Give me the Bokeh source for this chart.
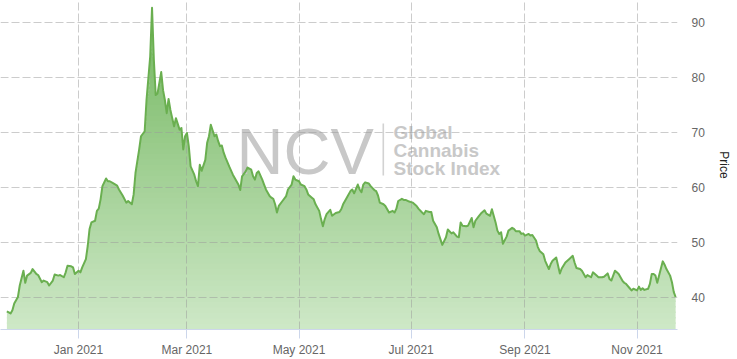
import numpy as np
import pandas as pd
from bokeh.plotting import figure
from bokeh.models import Range1d, FixedTicker, DatetimeTickFormatter, Label, BoxAnnotation
from bokeh.embed import file_html
from bokeh.resources import INLINE

# ---------------- data ----------------
dates = [
    "2020-11-23", "2020-11-25", "2020-11-26", "2020-11-27", "2020-11-29", "2020-11-30",
    "2020-12-02", "2020-12-03", "2020-12-04", "2020-12-06", "2020-12-07", "2020-12-09",
    "2020-12-10", "2020-12-12", "2020-12-13", "2020-12-15", "2020-12-16", "2020-12-18",
    "2020-12-19", "2020-12-21", "2020-12-22", "2020-12-24", "2020-12-25", "2020-12-26",
    "2020-12-28", "2020-12-29", "2020-12-30",
    "2021-01-01", "2021-01-02", "2021-01-03", "2021-01-05", "2021-01-06", "2021-01-07",
    "2021-01-08", "2021-01-10", "2021-01-11", "2021-01-12", "2021-01-13", "2021-01-14",
    "2021-01-16", "2021-01-17", "2021-01-18", "2021-01-20", "2021-01-22", "2021-01-23",
    "2021-01-25", "2021-01-27", "2021-01-28", "2021-01-30", "2021-01-31",
    "2021-02-01", "2021-02-03", "2021-02-04", "2021-02-06", "2021-02-07", "2021-02-09",
    "2021-02-10", "2021-02-11", "2021-02-12", "2021-02-13", "2021-02-15", "2021-02-16",
    "2021-02-17", "2021-02-18", "2021-02-19", "2021-02-20", "2021-02-21", "2021-02-22",
    "2021-02-23", "2021-02-25", "2021-02-26", "2021-02-27", "2021-02-28",
    "2021-03-01", "2021-03-02", "2021-03-03", "2021-03-05", "2021-03-06", "2021-03-07",
    "2021-03-08", "2021-03-09", "2021-03-11", "2021-03-12", "2021-03-13", "2021-03-14",
    "2021-03-16", "2021-03-17", "2021-03-18", "2021-03-19", "2021-03-20", "2021-03-21",
    "2021-03-22", "2021-03-24", "2021-03-26", "2021-03-27", "2021-03-29", "2021-03-30",
    "2021-03-31",
    "2021-04-02", "2021-04-03", "2021-04-05", "2021-04-06", "2021-04-07", "2021-04-08",
    "2021-04-09", "2021-04-11", "2021-04-12", "2021-04-13", "2021-04-15", "2021-04-16",
    "2021-04-17", "2021-04-18", "2021-04-19", "2021-04-20", "2021-04-22", "2021-04-24",
    "2021-04-25", "2021-04-27", "2021-04-28", "2021-04-29",
    "2021-05-01", "2021-05-02", "2021-05-04", "2021-05-05", "2021-05-06", "2021-05-08",
    "2021-05-09", "2021-05-10", "2021-05-12", "2021-05-13", "2021-05-14", "2021-05-15",
    "2021-05-16", "2021-05-18", "2021-05-19", "2021-05-21", "2021-05-23", "2021-05-24",
    "2021-05-25", "2021-05-27", "2021-05-29", "2021-05-30", "2021-05-31",
    "2021-06-02", "2021-06-03", "2021-06-04", "2021-06-05", "2021-06-06", "2021-06-08",
    "2021-06-09", "2021-06-11", "2021-06-12", "2021-06-13", "2021-06-14", "2021-06-16",
    "2021-06-17", "2021-06-18", "2021-06-19", "2021-06-21", "2021-06-22", "2021-06-23",
    "2021-06-24", "2021-06-26", "2021-06-27", "2021-06-28", "2021-06-30",
    "2021-07-01", "2021-07-02", "2021-07-04", "2021-07-05", "2021-07-07", "2021-07-08",
    "2021-07-09", "2021-07-11", "2021-07-12", "2021-07-13", "2021-07-15", "2021-07-16",
    "2021-07-18", "2021-07-20", "2021-07-21", "2021-07-23", "2021-07-24", "2021-07-26",
    "2021-07-27", "2021-07-28", "2021-07-29", "2021-07-31",
    "2021-08-01", "2021-08-03", "2021-08-04", "2021-08-05", "2021-08-07", "2021-08-08",
    "2021-08-10", "2021-08-11", "2021-08-13", "2021-08-14", "2021-08-16", "2021-08-17",
    "2021-08-18", "2021-08-19", "2021-08-20", "2021-08-22", "2021-08-23", "2021-08-25",
    "2021-08-26", "2021-08-27", "2021-08-29", "2021-08-30", "2021-08-31",
    "2021-09-01", "2021-09-03", "2021-09-04", "2021-09-05", "2021-09-07", "2021-09-08",
    "2021-09-09", "2021-09-11", "2021-09-12", "2021-09-14", "2021-09-15", "2021-09-16",
    "2021-09-18", "2021-09-20", "2021-09-21", "2021-09-23", "2021-09-25", "2021-09-27",
    "2021-09-28", "2021-09-29",
    "2021-10-01", "2021-10-02", "2021-10-04", "2021-10-05", "2021-10-07", "2021-10-08",
    "2021-10-10", "2021-10-11", "2021-10-13", "2021-10-14", "2021-10-16", "2021-10-17",
    "2021-10-18", "2021-10-20", "2021-10-21", "2021-10-22", "2021-10-24", "2021-10-25",
    "2021-10-26", "2021-10-28", "2021-10-29", "2021-10-30",
    "2021-11-01", "2021-11-02", "2021-11-03", "2021-11-04", "2021-11-05", "2021-11-07",
    "2021-11-08", "2021-11-09", "2021-11-10", "2021-11-11", "2021-11-12", "2021-11-13",
    "2021-11-15", "2021-11-16", "2021-11-17", "2021-11-19", "2021-11-20", "2021-11-21",
    "2021-11-22",
]

prices = [
    37.4, 37.0, 37.6, 38.8, 40.0, 42.1,
    44.8, 42.6, 43.9, 44.4, 45.1, 44.2,
    44.0, 42.7, 43.0, 42.7, 42.1, 43.0,
    44.1, 43.9, 44.0, 43.6, 44.5, 45.7,
    45.6, 45.4, 44.2,
    44.8, 44.5, 45.4, 46.9, 49.3, 52.4,
    53.6, 53.9, 55.7, 56.1, 57.8, 60.2,
    61.6, 61.1, 61.1, 60.7, 60.3, 59.6,
    58.5, 57.2, 57.5, 56.9, 58.7,
    62.6, 66.9, 69.3, 70.2, 75.9, 83.8,
    92.7, 83.2, 76.8, 77.1, 81.0, 77.7,
    75.9, 73.5, 76.1, 74.1, 72.6, 71.1,
    72.6, 70.5, 70.8, 66.9, 69.3,
    69.9, 67.5, 63.8, 62.3, 61.1, 60.2,
    64.1, 63.0, 65.0, 68.1, 69.3, 71.4,
    69.3, 69.6, 68.4, 67.5, 67.6, 66.3,
    65.4, 63.8, 62.3, 61.7, 60.5, 59.5,
    62.0,
    62.9, 63.6, 63.2, 62.0, 61.4, 62.6,
    62.9, 61.4, 60.5, 59.6, 58.4, 58.1,
    57.9, 56.9, 55.4, 56.6, 57.5, 58.4,
    59.6, 60.5, 62.0, 61.4,
    61.1, 60.5, 60.2, 59.6, 58.7, 58.1,
    57.8, 56.9, 55.7, 54.2, 52.9, 54.2,
    55.1, 55.9, 54.8, 55.3, 55.5, 56.0,
    56.9, 58.1, 59.3, 59.6, 58.9,
    60.5, 59.6, 59.1, 60.5, 60.9, 60.7,
    60.2, 59.5, 59.3, 58.5, 57.2, 56.9,
    56.6, 56.0, 55.4, 55.7, 55.4, 56.1,
    57.5, 57.9, 57.7, 57.7, 57.4,
    57.3, 57.2, 56.6, 56.1, 55.4, 55.1,
    55.7, 55.5, 55.5, 53.9, 52.7, 51.5,
    49.5, 50.9, 52.3, 51.6, 51.8, 51.0,
    50.9, 53.6, 53.0, 52.9,
    53.0, 54.4, 52.7, 53.9, 54.8, 55.2,
    55.8, 55.2, 54.8, 56.0, 53.6, 52.1,
    51.5, 51.8, 49.7, 51.0, 52.1, 52.6,
    52.4, 52.0, 52.0, 51.5, 51.6,
    51.2, 51.5, 51.2, 51.3, 50.3, 49.1,
    48.4, 47.8, 46.6, 45.1, 46.0, 46.6,
    47.2, 44.3, 45.2, 46.3, 46.9, 47.5,
    46.3, 45.3,
    45.1, 44.8, 43.6, 44.0, 43.6, 44.5,
    43.9, 43.6, 43.6, 43.7, 44.3, 43.3,
    43.0, 44.8, 44.5, 44.2, 43.0, 42.6,
    42.4, 41.6, 41.2, 41.5,
    41.2, 41.9, 41.3, 41.6, 41.3, 41.5,
    42.4, 44.2, 44.2, 43.9, 42.6, 43.9,
    46.5, 45.9, 45.1, 43.9, 42.7, 40.9,
    40.0,
]

tick_dates = ["2021-01-01", "2021-03-01", "2021-05-01", "2021-07-01", "2021-09-01", "2021-11-01"]
y_ticks = [40, 50, 60, 70, 80, 90]
y_title = "Price"
watermark_main = "NCV"
watermark_lines = ["Global", "Cannabis", "Stock Index"]

# ---------------- figure ----------------
FONT = "Liberation Sans"
x = pd.to_datetime(dates)
v = np.array(prices, dtype=float)

Y0, Y1 = 34.08, 94.04
x_start = pd.Timestamp("2021-01-01") - pd.Timedelta(days=42.48)
x_end = pd.Timestamp("2021-01-01") + pd.Timedelta(days=326.02)

p = figure(width=737, height=359, x_axis_type="datetime", y_axis_location="right",
           x_range=Range1d(x_start, x_end), y_range=Range1d(Y0, Y1),
           output_backend="svg", toolbar_location=None,
           min_border_left=0, min_border_top=0, min_border_right=60, min_border_bottom=28)
p.outline_line_color = None
p.background_fill_color = "white"
p.border_fill_color = "white"

# watermark (behind the series)
p.add_layout(Label(x=236, y=177.7, x_units="screen", y_units="screen", text=watermark_main,
                   text_font=FONT, text_font_size="65px", text_color="#c8c8c8",
                   text_baseline="alphabetic", level="image"))
p.add_layout(BoxAnnotation(left=382, right=383.6, bottom=154, top=206,
                           left_units="screen", right_units="screen",
                           bottom_units="screen", top_units="screen",
                           fill_color="#d2d2d2", fill_alpha=1.0, line_color=None, level="image"))
for txt, yy in zip(watermark_lines, [197.0, 178.7, 161.3]):
    p.add_layout(Label(x=393, y=yy, x_units="screen", y_units="screen", text=txt,
                       text_font=FONT, text_font_size="19px", text_font_style="bold",
                       text_color="#c8c8c8", text_baseline="alphabetic", level="image"))

# gradient area fill built from horizontal bands
top_rgb = np.array([112, 181, 92], dtype=float)
bot_rgb = np.array([206, 232, 199], dtype=float)
N = 60
edges = np.linspace(Y0, Y1, N + 1)
overlap = 0.3
for k in range(N):
    a, b = edges[k], edges[k + 1]
    t = (0.5 * (a + b) - Y0) / (Y1 - Y0)
    c = bot_rgb + (top_rgb - bot_rgb) * t
    col = "#%02x%02x%02x" % tuple(int(round(q)) for q in c)
    p.varea(x=x, y1=np.minimum(v, a), y2=np.minimum(v, b + overlap),
            fill_color=col, fill_alpha=1.0, level="image")

p.line(x, v, line_color="#6aaf50", line_width=2, line_join="round")

# axes
tick_ms = [float((pd.Timestamp(d) - pd.Timestamp("1970-01-01")) / pd.Timedelta(milliseconds=1))
           for d in tick_dates]
xt = FixedTicker(ticks=tick_ms)
xa = p.xaxis[0]
xa.ticker = xt
fmt = "%b %Y"
xa.formatter = DatetimeTickFormatter(microseconds=fmt, milliseconds=fmt, seconds=fmt, minsec=fmt,
                                     minutes=fmt, hourmin=fmt, hours=fmt, days=fmt,
                                     months=fmt, years=fmt)
xa.axis_line_color = "#ccd6eb"
xa.major_tick_line_color = "#ccd6eb"
xa.major_tick_out = 9
xa.major_tick_in = 0
xa.minor_tick_line_color = None
xa.major_label_standoff = 4
xa.major_label_text_font = FONT
xa.major_label_text_font_size = "12px"
xa.major_label_text_color = "#666666"

yt = FixedTicker(ticks=y_ticks)
ya = p.yaxis[0]
ya.ticker = yt
ya.axis_line_color = None
ya.major_tick_line_color = None
ya.minor_tick_line_color = None
ya.major_tick_out = 0
ya.major_tick_in = 0
ya.major_label_standoff = 14
ya.major_label_text_font = FONT
ya.major_label_text_font_size = "12px"
ya.major_label_text_color = "#666666"
ya.axis_label = y_title
ya.axis_label_text_font = FONT
ya.axis_label_text_font_size = "12px"
ya.axis_label_text_font_style = "normal"
ya.axis_label_text_color = "#222222"
ya.axis_label_standoff = 9

for g, tk in ((p.xgrid[0], xt), (p.ygrid[0], yt)):
    g.ticker = tk
    g.grid_line_color = "#999999"
    g.grid_line_alpha = 0.5
    g.grid_line_dash = "8 3"
    g.grid_line_width = 1

open("out.html", "w").write(file_html(p, INLINE))
